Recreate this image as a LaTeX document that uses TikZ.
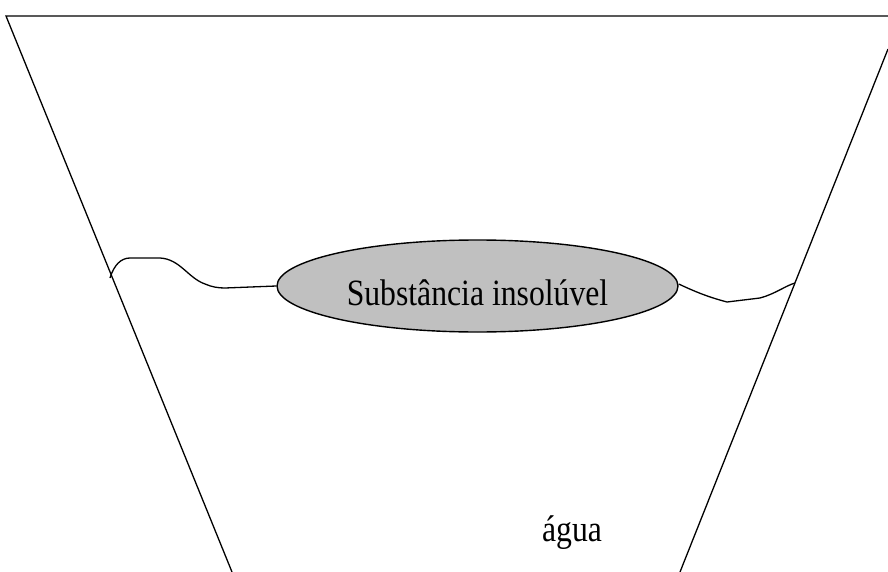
\documentclass[tikz,border=0pt]{standalone}
\usepackage{fontspec}
\setmainfont{Liberation Serif}
\usetikzlibrary{shapes.geometric}
\definecolor{blobgray}{RGB}{192,192,192}
\tikzset{
  stroke/.style={line width=1.3pt, black},
  blobshape/.style={ellipse, draw=black, line width=1.4pt, fill=blobgray, minimum width=401pt, minimum height=92pt, inner sep=0pt},
  label/.style={font=\fontsize{31.7}{36}\selectfont, inner sep=0pt}
}
\begin{document}
\begin{tikzpicture}[x=1pt,y=-1pt]
\useasboundingbox (0,0) rectangle (888,572);
% funnel
\coordinate (tl) at (6,16);
\coordinate (tr) at (888,16);
\coordinate (bl) at (232,572);
\coordinate (br) at (680,572);
\coordinate (rt) at (888,49);
\draw[stroke] (tr) -- (tl) -- (bl);
\draw[stroke] (br) -- (rt);
% blob
\node[blobshape] (blob) at (477.5,286) {};
\node[label, anchor=base] (blobtext) at (477.5,305) {\scalebox{1}[1.17]{Substância insolúvel}};
% water surface
\coordinate (wl) at (110,278);
\coordinate (wr) at (795,283);
\draw[stroke] (wl) .. controls (114,265) and (121,258) .. (130,258)
  -- (160,258) .. controls (180,259) and (188,278) .. (205,284)
  .. controls (212,287) and (218,288) .. (225,288) -- (blob.west);
\draw[stroke] (blob.east) ++(0,-2) .. controls (700,294) and (712,298) .. (727,302)
  -- (760,298) .. controls (775,294) and (785,286) .. (wr);
% text
\node[label, anchor=base] (agua) at (572,541) {\scalebox{1}[1.17]{água}};
\end{tikzpicture}
\end{document}
